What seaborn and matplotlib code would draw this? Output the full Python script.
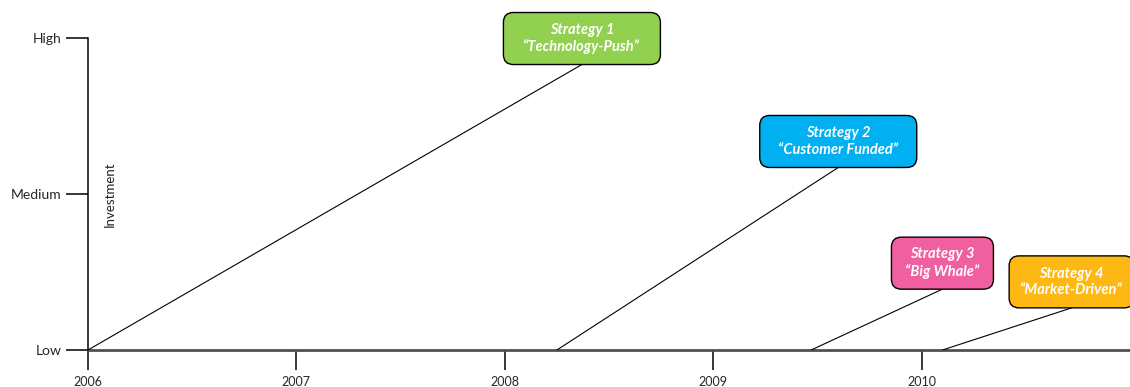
import matplotlib
matplotlib.use("Agg")
import matplotlib.pyplot as plt
from matplotlib.patches import FancyBboxPatch
import pandas as pd
import seaborn as sns

# Investment strategies: when each ramp starts, where it peaks, and how high
strategies = ["Strategy 1", "Strategy 2", "Strategy 3", "Strategy 4"]
nicknames = ["\u201cTechnology-Push\u201d", "\u201cCustomer Funded\u201d",
             "\u201cBig Whale\u201d", "\u201cMarket-Driven\u201d"]
start_year = [2006.0, 2008.25, 2009.47, 2010.10]
end_year = [2008.37, 2009.60, 2010.10, 2010.72]
end_level = [1.83, 1.17, 0.39, 0.27]
colors = ["#92D050", "#00B0F0", "#F05FA0", "#FDB813"]

years = [2006, 2007, 2008, 2009, 2010]
levels = [0, 1, 2]
level_labels = ["Low", "Medium", "High"]

rows = []
for name, x0, x1, y1 in zip(strategies, start_year, end_year, end_level):
    rows.append({"strategy": name, "year": x0, "level": 0.0})
    rows.append({"strategy": name, "year": x1, "level": y1})
df = pd.DataFrame(rows)

sns.set_theme(style="white")
plt.rcParams["font.family"] = ["Lato", "DejaVu Sans"]

W, H = 1130, 387
fig = plt.figure(figsize=(W / 100, H / 100), dpi=100)
left_px, right_px, low_px, high_px = 88, 1130, 350, 38
ax = fig.add_axes([left_px / W, 1 - low_px / H,
                   (right_px - left_px) / W, (low_px - high_px) / H])
ax.set_xlim(2006, 2011)
ax.set_ylim(0, 2)

sns.lineplot(data=df, x="year", y="level", units="strategy", estimator=None,
             color="black", linewidth=0.8, ax=ax, legend=False)

# pixel scale per data unit, used to size the callout boxes
px_x = (right_px - left_px) / 5.0
px_y = (low_px - high_px) / 2.0
box_w = [157, 157, 102, 125]
box_h = 52
for name, nick, x1, y1, c, bw in zip(strategies, nicknames, end_year, end_level, colors, box_w):
    w = bw / px_x
    h = box_h / px_y
    r = 10 / px_x
    patch = FancyBboxPatch((x1 - w / 2, y1), w, h,
                           boxstyle=f"round,pad=0,rounding_size={r}",
                           mutation_aspect=px_x / px_y,
                           facecolor=c, edgecolor="black", linewidth=1.0,
                           clip_on=False, zorder=3)
    ax.add_patch(patch)
    ax.text(x1, y1 + h / 2, f"{name}\n{nick}", ha="center", va="center",
            color="white", fontsize=10.5, fontweight="bold", fontstyle="italic",
            linespacing=1.2, zorder=4, clip_on=False)

ax.set_xticks(years)
ax.set_xticklabels([str(y) for y in years])
ax.set_yticks(levels)
ax.set_yticklabels(level_labels)
ax.tick_params(axis="y", direction="out", length=16, width=1.1, color="black",
               labelsize=10, pad=3, left=True)
ax.tick_params(axis="x", direction="out", length=14.5, width=1.1, color="black",
               labelsize=9, pad=4.5, bottom=True)
ax.set_xlabel("")
ax.set_ylabel("Investment", fontsize=9.5, color="#222222")
ax.yaxis.set_label_coords(0.021, 0.5)
ax.yaxis.label.set_verticalalignment("center")

for s in ["top", "right"]:
    ax.spines[s].set_visible(False)
ax.spines["left"].set_color("black")
ax.spines["left"].set_linewidth(1.1)
ax.spines["bottom"].set_color("#505050")
ax.spines["bottom"].set_linewidth(2.0)
ax.spines["bottom"].set_zorder(1)

fig.savefig("out.png", dpi=100)
